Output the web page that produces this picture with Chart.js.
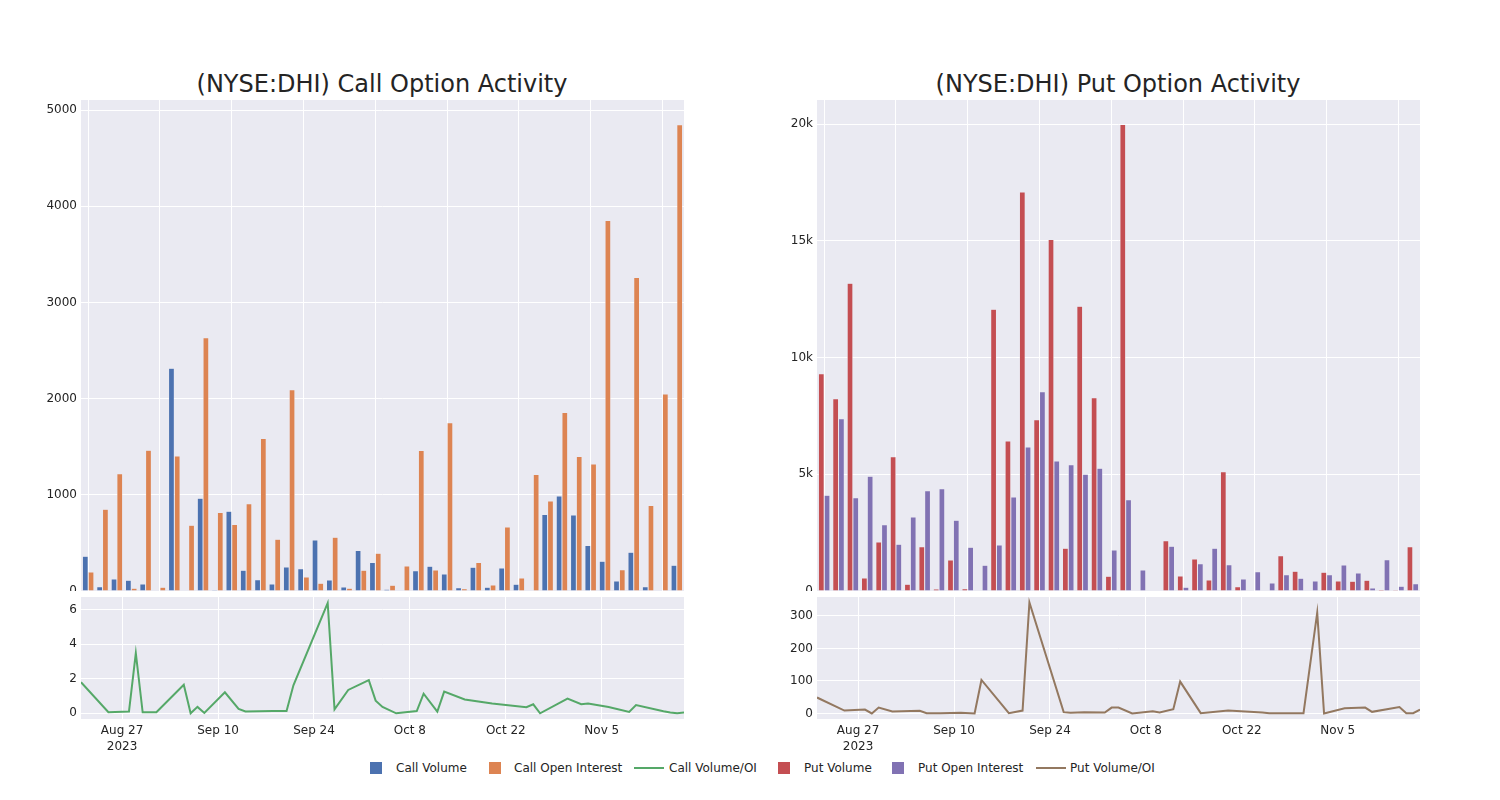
<!DOCTYPE html>
<html>
<head>
<meta charset="utf-8">
<script src="https://cdn.jsdelivr.net/npm/chart.js@4/dist/chart.umd.min.js"></script>
<style>
  body { margin: 0; background: #fff; font-family: 'DejaVu Sans', sans-serif; color: rgb(36,36,36); }
  #page { position: relative; width: 1500px; height: 800px; overflow: hidden; }
  .box { position: absolute; }
  .title { position: absolute; font-size: 24px; height: 28px; line-height: 28px; text-align: center; white-space: nowrap; }
  .lg { position: absolute; top: 761px; font-size: 12px; line-height: 14px; white-space: nowrap; }
  .sq { position: absolute; top: 762px; width: 12px; height: 12px; }
  .ln { position: absolute; top: 767px; width: 30px; height: 2px; }
</style>
</head>
<body>
<div id="page">
  <div class="title" style="left:82px;width:600px;top:70px">(NYSE:DHI) Call Option Activity</div>
  <div class="title" style="left:818px;width:600px;top:70px">(NYSE:DHI) Put Option Activity</div>

  <div class="box" style="left:0;top:100px;width:684px;height:491px"><canvas id="callBars"></canvas></div>
  <div class="box" style="left:0;top:597px;width:684px;height:160px"><canvas id="callLine"></canvas></div>
  <div class="box" style="left:740px;top:100px;width:680px;height:491px"><canvas id="putBars"></canvas></div>
  <div class="box" style="left:740px;top:597px;width:680px;height:160px"><canvas id="putLine"></canvas></div>

  <div class="sq" style="left:370px;background:#4C72B0"></div><div class="lg" style="left:396px">Call Volume</div>
  <div class="sq" style="left:489px;background:#DD8452"></div><div class="lg" style="left:514px">Call Open Interest</div>
  <div class="ln" style="left:634px;background:#55A868"></div><div class="lg" style="left:669px">Call Volume/OI</div>
  <div class="sq" style="left:778px;background:#C44E52"></div><div class="lg" style="left:804px">Put Volume</div>
  <div class="sq" style="left:892px;background:#8172B3"></div><div class="lg" style="left:918px">Put Open Interest</div>
  <div class="ln" style="left:1036px;background:#937860"></div><div class="lg" style="left:1070px">Put Volume/OI</div>
</div>

<script>
// trading days shown in both panels
const dates = ['2023-08-21','2023-08-25','2023-08-28','2023-08-29','2023-08-30','2023-09-01','2023-09-05','2023-09-06',
  '2023-09-07','2023-09-08','2023-09-11','2023-09-13','2023-09-14','2023-09-18','2023-09-20','2023-09-21','2023-09-26',
  '2023-09-27','2023-09-29','2023-10-02','2023-10-03','2023-10-04','2023-10-06','2023-10-09','2023-10-10','2023-10-12',
  '2023-10-13','2023-10-16','2023-10-20','2023-10-25','2023-10-26','2023-10-27','2023-10-31','2023-11-02','2023-11-03',
  '2023-11-06','2023-11-09','2023-11-10','2023-11-14','2023-11-15','2023-11-16','2023-11-17'];

const callVolume = [360,45,125,111,73,0,2316,0,964,10,829,215,118,73,250,232,530,114,42,420,295,17,0,211,257,177,35,246,38,239,69,0,794,988,790,472,309,104,402,45,7,267];
const callOI = [198,850,1220,28,1463,38,1404,683,2632,815,690,908,1585,537,2091,146,80,558,28,215,392,59,260,1460,218,1748,24,295,62,666,135,1210,936,1855,1397,1321,3852,222,3259,888,2049,4848];
const callRatio = [1.8,0.06,0.1,3.48,0.06,0.06,1.65,0,0.37,0.02,1.21,0.25,0.1,0.13,0.13,1.62,6.37,0.23,1.35,1.92,0.73,0.37,0,0.13,1.13,0.1,1.25,0.8,0.56,0.35,0.52,0,0.85,0.52,0.56,0.36,0.08,0.48,0.12,0.05,0,0.04];

const putVolume = [9314,8243,13186,557,2100,5757,286,1900,86,1329,100,29,12071,6429,17100,7343,15057,1829,12200,8286,629,19990,0,30,2157,643,1371,471,5114,186,14,0,1514,843,29,800,429,414,457,57,43,1900];
const putOI = [4100,7386,4000,4914,2843,2000,3171,4300,4386,3029,1871,1100,1971,4029,6171,8543,5571,5414,5000,5257,1757,3914,900,0,1914,157,1171,1829,1129,514,829,343,700,543,429,700,1114,771,129,1343,200,314];
const putRatio = [49,9,12,0,18,6,8,1,1,1,2,0,103,1,9,341,4,2,4,3,18,18,0,7,3,13,98,1,9,3,1,1,1,310,0,16,18,5,20,1,1,12];

// axis ticks
const callBarTicks = [0,1000,2000,3000,4000,5000];
const callBarTickLabels = ['0','1000','2000','3000','4000','5000'];
const putBarTicks = [0,5000,10000,15000,20000];
const putBarTickLabels = ['0','5k','10k','15k','20k'];
const callRatioTicks = [0,2,4,6];
const putRatioTicks = [0,100,200,300];
const dateTicks = ['2023-08-27','2023-09-10','2023-09-24','2023-10-08','2023-10-22','2023-11-05'];
const dateTickLabels = [['Aug 27','2023'],'Sep 10','Sep 24','Oct 8','Oct 22','Nov 5'];

const BG = 'rgb(234,234,242)';
Chart.defaults.font.family = 'DejaVu Sans';
Chart.defaults.font.size = 12;
Chart.defaults.color = 'rgb(36,36,36)';
Chart.defaults.animation = false;

const plotBg = {
  id: 'plotBg',
  beforeDraw(chart) {
    const a = chart.chartArea, ctx = chart.ctx;
    ctx.save();
    ctx.fillStyle = BG;
    ctx.fillRect(a.left, a.top, a.right - a.left, a.bottom - a.top);
    ctx.restore();
  }
};

function dayNum(d) { return Date.parse(d + 'T00:00:00Z') / 864e5; }

// no extra room for half labels at the ends, plot areas stay where they are
function noPad(s) { s.paddingTop = 0; s.paddingBottom = 0; s.paddingLeft = 0; s.paddingRight = 0; }

function yAxis(width, min, max, ticks, labels) {
  return {
    min: min, max: max,
    border: {display: false},
    grid: {color: '#fff', drawTicks: false},
    ticks: {padding: 4, callback: (v, i) => labels[i]},
    afterBuildTicks: s => { s.ticks = ticks.map(v => ({value: v})); },
    afterFit: s => { s.width = width; noPad(s); }
  };
}

function barChart(id, yw, ymax, ticks, labels, s1, s2) {
  new Chart(document.getElementById(id), {
    type: 'bar',
    data: {
      labels: dates,
      datasets: [s1, s2].map(s => ({
        label: s.label, data: s.data, backgroundColor: s.color,
        borderColor: BG, borderWidth: 0.5,
        categoryPercentage: 0.8, barPercentage: 1.0
      }))
    },
    options: {
      responsive: true, maintainAspectRatio: false,
      layout: {padding: 0},
      plugins: {legend: {display: false}, tooltip: {enabled: false}},
      scales: {
        x: {
          border: {display: false},
          grid: {offset: false, drawTicks: false, color: c => (c.index % 5 === 0 ? '#fff' : 'rgba(0,0,0,0)')},
          ticks: {display: false},
          afterFit: s => { s.height = 0; noPad(s); }
        },
        y: yAxis(yw, 0, ymax, ticks, labels)
      }
    },
    plugins: [plotBg]
  });
}

function lineChart(id, yw, ymin, ymax, ticks, label, values, color) {
  new Chart(document.getElementById(id), {
    type: 'line',
    data: {
      datasets: [{
        label: label,
        data: dates.map((d, i) => ({x: dayNum(d), y: values[i]})),
        borderColor: color, borderWidth: 2, pointRadius: 0, tension: 0
      }]
    },
    options: {
      responsive: true, maintainAspectRatio: false,
      layout: {padding: 0},
      plugins: {legend: {display: false}, tooltip: {enabled: false}},
      scales: {
        x: {
          type: 'linear',
          min: dayNum(dates[0]), max: dayNum(dates[dates.length - 1]),
          border: {display: false},
          grid: {color: '#fff', drawTicks: false},
          ticks: {padding: 4, maxRotation: 0, font: {lineHeight: 1.35}, callback: (v, i) => dateTickLabels[i]},
          afterBuildTicks: s => { s.ticks = dateTicks.map(d => ({value: dayNum(d)})); },
          afterFit: s => { s.height = 38; noPad(s); }
        },
        y: yAxis(yw, ymin, ymax, ticks, ticks.map(String))
      }
    },
    plugins: [plotBg]
  });
}

barChart('callBars', 81, 5104, callBarTicks, callBarTickLabels,
  {label: 'Call Volume', data: callVolume, color: '#4C72B0'},
  {label: 'Call Open Interest', data: callOI, color: '#DD8452'});
lineChart('callLine', 81, -0.33, 6.72, callRatioTicks, 'Call Volume/OI', callRatio, '#55A868');

barChart('putBars', 77, 21040, putBarTicks, putBarTickLabels,
  {label: 'Put Volume', data: putVolume, color: '#C44E52'},
  {label: 'Put Open Interest', data: putOI, color: '#8172B3'});
lineChart('putLine', 77, -17, 358, putRatioTicks, 'Put Volume/OI', putRatio, '#937860');
</script>
</body>
</html>
